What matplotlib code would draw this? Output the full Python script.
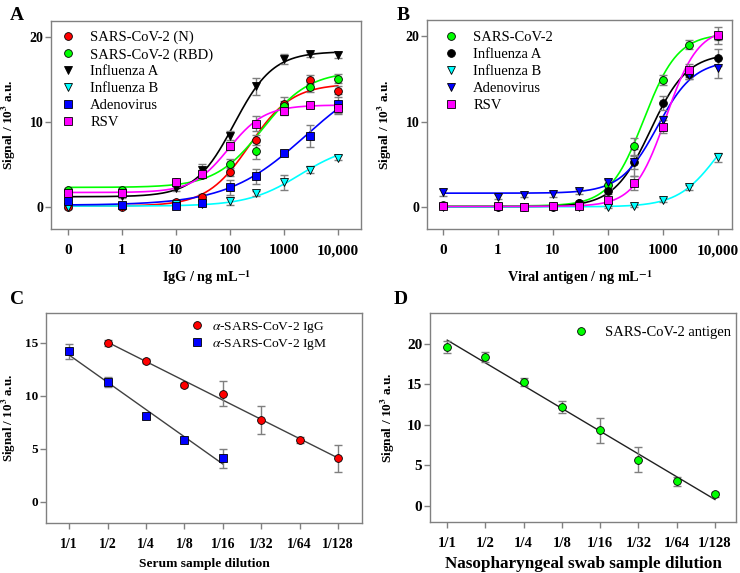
import numpy as np
import matplotlib
matplotlib.use("Agg")
from matplotlib import pyplot as plt

plt.rcParams['font.family'] = ['Liberation Serif', 'DejaVu Serif']
plt.rcParams['mathtext.fontset'] = 'stix'

# ---- panel A : IgG ----
conc_a = [0, 1, 10, 30, 100, 300, 1000, 3000, 10000]
a_labels = ['SARS-CoV-2 (N)', 'SARS-CoV-2 (RBD)', 'Influenza A', 'Influenza B', 'Adenovirus', 'RSV']
a_vals = [
    [0.0, 0.0, 0.6, 1.2, 4.1, 7.9, 12.1, 15.0, 13.6],
    [2.0, 2.0, 2.9, 3.8, 5.0, 6.6, 11.9, 14.1, 15.1],
    [1.1, 1.3, 2.2, 4.3, 8.4, 14.2, 17.4, 18.0, 17.9],
    [0.0, 0.1, 0.3, 0.4, 0.7, 1.6, 2.9, 4.4, 5.8],
    [0.7, 0.2, 0.1, 0.5, 2.3, 3.6, 6.3, 8.3, 12.1],
    [1.6, 1.6, 2.9, 3.9, 7.2, 9.8, 11.3, 12.0, 11.6],
]
a_errs = [
    [0.2, 0.2, 0.2, 0.3, 0.5, 0.6, 0.8, 0.5, 0.7],
    [0.2, 0.2, 0.3, 0.4, 0.7, 1.0, 0.6, 0.6, 0.5],
    [0.2, 0.2, 0.3, 0.8, 0.5, 1.0, 0.6, 0.3, 0.4],
    [0.1, 0.1, 0.2, 0.3, 0.5, 0.3, 0.9, 0.4, 0.3],
    [0.3, 0.2, 0.2, 0.3, 0.9, 0.9, 0.3, 1.3, 1.2],
    [0.3, 0.3, 0.4, 0.4, 0.5, 0.9, 0.5, 0.4, 0.5],
]
# 4PL fit parameters: bottom, top, ec50, hill
a_fit = [
    (0.1, 14.5, 233, 1.1),
    (2.3, 16.0, 400, 1.0),
    (1.2, 18.3, 120, 1.2),
    (0.1, 7.5, 2000, 0.9),
    (0.2, 16.5, 2500, 0.6),
    (1.7, 12.0, 95, 1.3),
]
a_colors = ['#ff0000', '#00ff00', '#000000', '#00ffff', '#0000ff', '#ff00ff']
a_markers = ['o', 'o', 'v', 'v', 's', 's']

# ---- panel B : viral antigen ----
conc_b = [0, 1, 3, 10, 30, 100, 300, 1000, 3000, 10000]
b_labels = ['SARS-CoV-2', 'Influenza A', 'Influenza B', 'Adenovirus', 'RSV']
b_vals = [
    [0.2, 0.1, 0.0, 0.1, 0.5, 2.6, 7.1, 14.9, 19.0, 20.0],
    [0.1, 0.0, 0.0, 0.0, 0.4, 1.8, 5.2, 12.2, 15.6, 17.5],
    [0.0, 0.0, 0.0, 0.0, 0.0, 0.0, 0.1, 0.8, 2.3, 5.8],
    [1.7, 1.2, 1.4, 1.5, 1.8, 2.9, 5.2, 10.2, 15.5, 16.3],
    [0.1, 0.1, 0.0, 0.1, 0.1, 0.8, 2.8, 9.4, 16.0, 20.1],
]
b_errs = [
    [0.2, 0.2, 0.2, 0.2, 0.2, 0.5, 1.0, 0.6, 0.5, 0.5],
    [0.2, 0.2, 0.2, 0.2, 0.2, 0.3, 1.6, 0.8, 0.6, 1.0],
    [0.1, 0.1, 0.1, 0.1, 0.1, 0.1, 0.1, 0.2, 0.3, 0.5],
    [0.4, 0.3, 0.3, 0.3, 0.3, 0.4, 0.8, 0.5, 0.5, 1.2],
    [0.2, 0.2, 0.2, 0.2, 0.2, 0.3, 0.8, 0.8, 0.8, 1.0],
]
b_fit = [
    (0.1, 20.3, 450, 1.4),
    (0.0, 18.0, 600, 1.3),
    (0.0, 12.0, 10000, 1.2),
    (1.6, 17.2, 800, 1.3),
    (0.05, 21.0, 1150, 1.5),
]
b_colors = ['#00ff00', '#000000', '#00ffff', '#0000ff', '#ff00ff']
b_markers = ['o', 'o', 'v', 'v', 's']

# ---- panels C, D : dilutions ----
dilutions = ['1/1', '1/2', '1/4', '1/8', '1/16', '1/32', '1/64', '1/128']
igg_idx = [1, 2, 3, 4, 5, 6, 7]
igg_vals = [15.0, 13.3, 11.0, 10.2, 7.7, 5.8, 4.1]
igg_errs = [0.3, 0.2, 0.2, 1.2, 1.3, 0.3, 1.3]
igm_idx = [0, 1, 2, 3, 4]
igm_vals = [14.2, 11.3, 8.1, 5.8, 4.1]
igm_errs = [0.7, 0.5, 0.3, 0.2, 0.9]
swab_idx = [0, 1, 2, 3, 4, 5, 6, 7]
swab_vals = [19.6, 18.4, 15.3, 12.2, 9.3, 5.7, 3.0, 1.4]
swab_errs = [0.7, 0.6, 0.5, 0.7, 1.5, 1.5, 0.6, 0.3]

W, H = 740, 573
fig = plt.figure(figsize=(W / 100, H / 100), dpi=100)


def box(l, t, r, b):
    ax = fig.add_axes([l / W, 1 - b / H, (r - l) / W, (b - t) / H])
    ax.wpx = r - l
    return ax


def style(ax, ylab_off, xsize, ysize, labsize):
    for s in ax.spines.values():
        s.set_color('#808080')
        s.set_linewidth(1.0)
    ax.tick_params(direction='out', length=4, width=1, color='#808080')
    ax.tick_params(axis='x', pad=7, labelsize=xsize)
    ax.tick_params(axis='y', pad=1.5, labelsize=ysize)
    for lab in ax.get_xticklabels() + ax.get_yticklabels():
        lab.set_fontweight('bold')
    ax.set_ylabel(r'Signal / 10$^{\mathbf{3}}$ a.u.', fontsize=labsize, fontweight='bold')
    ax.yaxis.set_label_coords(ylab_off / ax.wpx, 0.5)


def pos(c):
    c = np.asarray(c, dtype=float)
    return np.where(c > 0, np.log10(np.where(c > 0, c, 1)), -1.0)


def four_pl(c, p):
    bot, top, ec50, h = p
    return bot + (top - bot) / (1 + (ec50 / c) ** h)


def pts(ax, x, y, e, col, mk):
    ax.errorbar(x, y, yerr=e, fmt='none', ecolor='#7f7f7f', elinewidth=1, capsize=3, capthick=1, zorder=3)
    ms = 5.2 if mk == 's' else 5.6
    return ax.plot(x, y, mk, color=col, mec='black', mew=0.6, ms=ms, ls='none', zorder=4)[0]


uu = np.linspace(-1, 4, 300)
leg_kw = dict(frameon=False, handlelength=1.0, borderaxespad=0.0, borderpad=0.0)

# A
axA = box(51, 21, 361, 229)
handles = []
for v, e, p, col, mk in zip(a_vals, a_errs, a_fit, a_colors, a_markers):
    axA.plot(uu, four_pl(10 ** uu, p), color=col, lw=1.2, zorder=2)
    handles.append(pts(axA, pos(conc_a), v, e, col, mk))
axA.set_xlim(-1.31, 4.43)
axA.set_ylim(-2.6, 21.9)
axA.set_xticks([-1, 0, 1, 2, 3, 4])
axA.set_xticklabels(['0', '1', '10', '100', '1000', '10,000'])
axA.set_yticks([0, 10, 20])
axA.set_xlabel(r'IgG / ng mL$^{\mathbf{-1}}$', fontsize=10.3, fontweight='bold', labelpad=8)
axA.legend(handles, a_labels, loc='upper left', bbox_to_anchor=(10 / 310, 1 - 10 / 208),
           fontsize=10.5, handletextpad=1.0, labelspacing=0.25, **leg_kw)
style(axA, -33, 11, 10, 9.6)

# B
axB = box(427, 20, 732, 229)
handles = []
for v, e, p, col, mk in zip(b_vals, b_errs, b_fit, b_colors, b_markers):
    axB.plot(uu, four_pl(10 ** uu, p), color=col, lw=1.2, zorder=2)
    handles.append(pts(axB, pos(conc_b), v, e, col, mk))
axB.set_xlim(-1.29, 4.26)
axB.set_ylim(-2.6, 21.9)
axB.set_xticks([-1, 0, 1, 2, 3, 4])
axB.set_xticklabels(['0', '1', '10', '100', '1000', '10,000'])
axB.set_yticks([0, 10, 20])
axB.set_xlabel(r'Viral antigen / ng mL$^{\mathbf{-1}}$', fontsize=10.3, fontweight='bold', labelpad=8)
axB.legend(handles, b_labels, loc='upper left', bbox_to_anchor=(17 / 305, 1 - 11 / 209),
           fontsize=10.5, handletextpad=1.0, labelspacing=0.25, **leg_kw)
style(axB, -33, 11, 10, 9.6)

# C
axC = box(46, 313, 362, 523)
k, b0 = np.polyfit(igg_idx, igg_vals, 1)
xs = np.array([igg_idx[0], igg_idx[-1]])
axC.plot(xs, k * xs + b0, color='#404040', lw=1, zorder=2)
k, b0 = np.polyfit(igm_idx, igm_vals, 1)
xs = np.array([igm_idx[0], igm_idx[-1]])
axC.plot(xs, k * xs + b0, color='#404040', lw=1, zorder=2)
h1 = pts(axC, igg_idx, igg_vals, igg_errs, '#ff0000', 'o')
h2 = pts(axC, igm_idx, igm_vals, igm_errs, '#0000ff', 's')
axC.set_xlim(-0.6, 7.62)
axC.set_ylim(-2.0, 17.8)
axC.set_xticks(range(len(dilutions)))
axC.set_xticklabels(dilutions)
axC.set_yticks([0, 5, 10, 15])
axC.set_xlabel('Serum sample dilution', fontsize=9.7, fontweight='bold', labelpad=5)
axC.legend([h1, h2], [r'$\alpha$-SARS-CoV-2 IgG', r'$\alpha$-SARS-CoV-2 IgM'], loc='upper left',
           bbox_to_anchor=(144 / 316, 1 - 7 / 210), fontsize=9.7, handletextpad=0.6,
           labelspacing=0.15, **leg_kw)
style(axC, -27.5, 10, 9.5, 9.4)

# D
axD = box(430, 313, 736, 522)
k, b0 = np.polyfit(swab_idx, swab_vals, 1)
xs = np.array([swab_idx[0], swab_idx[-1]])
axD.plot(xs, k * xs + b0, color='#202020', lw=1, zorder=2)
h1 = pts(axD, swab_idx, swab_vals, swab_errs, '#00ff00', 'o')
axD.set_xlim(-0.45, 7.55)
axD.set_ylim(-2.0, 23.8)
axD.set_xticks(range(len(dilutions)))
axD.set_xticklabels(dilutions)
axD.set_yticks([0, 5, 10, 15, 20])
axD.set_xlabel('Nasopharyngeal swab sample dilution', fontsize=12.3, fontweight='bold', labelpad=4)
axD.legend([h1], ['SARS-CoV-2 antigen'], loc='upper left', bbox_to_anchor=(144 / 306, 1 - 13 / 209),
           fontsize=10.5, handletextpad=1.1, **leg_kw)
style(axD, -33, 10.5, 11, 9.6)

for txt, x, y in [('A', 10, 7), ('B', 397, 7), ('C', 10, 291), ('D', 394, 291)]:
    fig.text(x / W, 1 - y / H, txt, fontsize=14, fontweight='bold', va='top', ha='left')

fig.savefig('out.png', dpi=100)
